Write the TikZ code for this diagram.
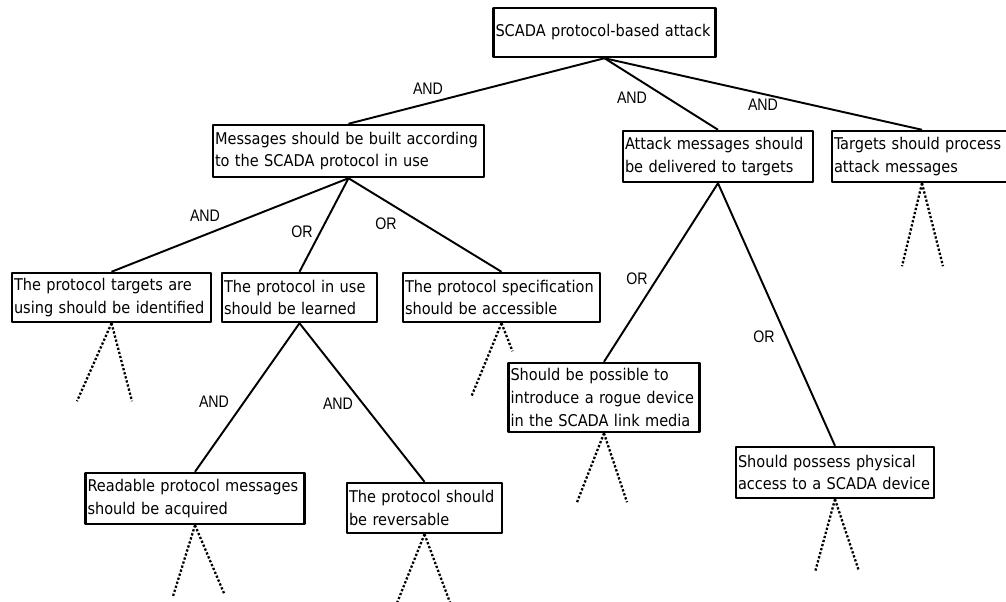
\documentclass[tikz,border=0pt]{standalone}
\usepackage{fontspec}
\setmainfont{DejaVu Sans Condensed}
\newfontfamily\lblfont[FakeStretch=0.85]{Liberation Sans}
\usetikzlibrary{calc}

\tikzset{
  goal/.style={draw, line width=1.4pt, align=left, inner xsep=0.04cm, inner ysep=0pt,
    font=\fontsize{9.2}{13}\selectfont},
  branch/.style={line width=1.1pt},
  subtree/.style={line width=1.3pt, dash pattern=on 1.3pt off 1.1pt},
  lbl/.style={font=\lblfont\fontsize{9.5}{11}\selectfont, inner sep=0pt},
}

\begin{document}
\begin{tikzpicture}[line join=round]

  % ===== page =====
  \useasboundingbox (0,0) rectangle (20.12,-12.04);

  % ===== goals =====
  \node[goal, text width=4.36cm, minimum height=0.98cm] (root) at (12.09,-0.65)
    {SCADA protocol-based attack};

  \node[goal, text width=5.34cm, minimum height=1.04cm] (msg) at (6.97,-3.02)
    {Messages should be built according\\to the SCADA protocol in use};
  \node[goal, text width=3.72cm, minimum height=1.02cm] (deliver) at (14.36,-3.13)
    {Attack messages should\\be delivered to targets};
  \node[goal, text width=3.52cm, minimum height=1.02cm] (process) at (18.44,-3.13)
    {Targets should process\\attack messages};

  \node[goal, text width=3.90cm, minimum height=0.98cm] (ident) at (2.23,-5.95)
    {The protocol targets are\\using should be identified};
  \node[goal, text width=3.02cm, minimum height=0.98cm] (learned) at (5.99,-5.95)
    {The protocol in use\\should be learned};
  \node[goal, text width=3.86cm, minimum height=0.98cm] (spec) at (10.03,-5.95)
    {The protocol specification\\should be accessible};

  \node[goal, text width=3.74cm, minimum height=1.38cm] (rogue) at (12.08,-7.95)
    {Should be possible to\\introduce a rogue device\\in the SCADA link media};
  \node[goal, text width=3.88cm, minimum height=1.02cm] (physical) at (16.70,-9.45)
    {Should possess physical\\access to a SCADA device};

  \node[goal, text width=4.30cm, minimum height=1.02cm] (readable) at (3.90,-9.97)
    {Readable protocol messages\\should be acquired};
  \node[goal, text width=3.02cm, minimum height=1.00cm] (reverse) at (8.49,-10.16)
    {The protocol should\\be reversable};

  % ===== branches =====
  \foreach \from/\to in {root/msg, root/deliver, root/process,
                         msg/ident, msg/learned, msg/spec,
                         learned/readable, learned/reverse,
                         deliver/rogue, deliver/physical}
    \draw[branch] (\from.south) -- (\to.north);

  % ---- branch labels ----
  \node[lbl] (and1) at (8.56,-1.78) {AND};
  \node[lbl] (and2) at (12.64,-1.96) {AND};
  \node[lbl] (and3) at (15.26,-2.10) {AND};
  \node[lbl] (and4) at (4.10,-4.32) {AND};
  \node[lbl] (or1)  at (6.04,-4.64) {OR};
  \node[lbl] (or2)  at (7.72,-4.48) {OR};
  \node[lbl] (and5) at (4.28,-8.04) {AND};
  \node[lbl] (and6) at (6.76,-8.08) {AND};
  \node[lbl] (or3)  at (12.74,-5.58) {OR};
  \node[lbl] (or4)  at (15.28,-6.74) {OR};

  % ===== unexpanded subtrees =====
  \foreach \n/\lx/\ly/\rx/\ry in {ident/-0.69/-1.56/0.41/-1.56,
                                  spec/-0.60/-1.46/0.22/-0.56,
                                  process/-0.40/-1.66/0.42/-1.66,
                                  readable/-0.44/-1.42/0.58/-1.36,
                                  reverse/-0.60/-1.50/0.56/-1.50,
                                  rogue/-0.54/-1.38/0.46/-1.38,
                                  physical/-0.40/-1.46/0.48/-1.44}
  {
    \coordinate (\n-l) at ($(\n.south)+(\lx,\ly)$);
    \coordinate (\n-r) at ($(\n.south)+(\rx,\ry)$);
    \draw[subtree] (\n.south) -- (\n-l);
    \draw[subtree] (\n.south) -- (\n-r);
  }

\end{tikzpicture}
\end{document}
